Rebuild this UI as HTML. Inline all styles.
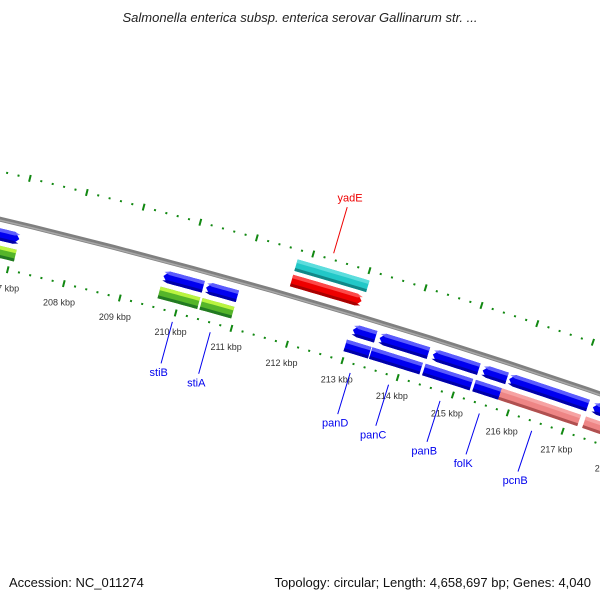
<!DOCTYPE html>
<html><head><meta charset="utf-8"><style>
html,body{margin:0;padding:0;background:#fff;}
svg{display:block;font-family:"Liberation Sans","DejaVu Sans",sans-serif;}
</style></head><body>
<svg id="map" width="600" height="600" viewBox="0 0 600 600" xmlns="http://www.w3.org/2000/svg">
<rect width="600" height="600" fill="#fff"/>
<text x="300" y="22" text-anchor="middle" font-size="13" font-style="italic" fill="#222">Salmonella enterica subsp. enterica serovar Gallinarum str. ...</text>
<text x="9" y="587" font-size="13" fill="#111">Accession: NC_011274</text>
<text x="591" y="587" text-anchor="end" font-size="13" fill="#111">Topology: circular; Length: 4,658,697 bp; Genes: 4,040</text>
<g id="layer"></g>
</svg>
<script>
// scale / axis data
const tickKbp = [204,205,206,207,208,209,210,211,212,213,214,215,216,217,218,219];
const tickLabels = ["204 kbp","205 kbp","206 kbp","207 kbp","208 kbp","209 kbp","210 kbp","211 kbp","212 kbp","213 kbp","214 kbp","215 kbp","216 kbp","217 kbp","218 kbp","219 kbp"];
// CDS track (inner, upper band)
const cdsStart = [206.4,209.63,210.39,213.02,213.50,214.46,215.36,215.84,217.36];
const cdsEnd   = [207.07,210.34,210.95,213.43,214.38,215.29,215.80,217.27,218.6];
const cdsStrand = [1,-1,-1,-1,-1,-1,-1,-1,-1];
// gene track (inner, lower band)
const geneStart = [206.4,209.63,210.38,212.97,213.43,214.39,215.30,215.77,217.30];
const geneEnd   = [207.07,210.34,210.95,213.41,214.34,215.25,215.77,217.21,218.6];
const geneType  = ["green","green","green","blue","blue","blue","blue","pink","pink"];
const geneNames = ["","stiB","stiA","panD","panC","panB","folK","pcnB",""];
// outer features (yadE)
const outerStart = [211.77,211.77];
const outerEnd = [213.05,213.02];
const outerType = ["cyan","red"];
const outerStrand = [0,1];
const outerLabel = "yadE";
const outerLabelKbp = 212.33;

const CX=-1514, CY=6532, R=6492, DEG_PER_KBP=0.514, REF_ANGLE=-74.8;
const NS="http://www.w3.org/2000/svg";
const layer=document.getElementById('layer');
function ang(k){return (REF_ANGLE+(k-210)*DEG_PER_KBP)*Math.PI/180;}
function P(k,d){const a=ang(k),r=R+d;return [CX+r*Math.cos(a),CY+r*Math.sin(a)];}
function mk(tag,attrs){const e=document.createElementNS(NS,tag);for(const k in attrs)e.setAttribute(k,attrs[k]);layer.appendChild(e);return e;}
function arcPts(k1,k2,d){const pts=[];const n=12;for(let i=0;i<=n;i++){pts.push(P(k1+(k2-k1)*i/n,d));}return pts;}
function ptsStr(p){return p.map(q=>q[0].toFixed(2)+','+q[1].toFixed(2)).join(' ');}
function bandPts(k1,k2,d1,d2,strand){
  const head=0.09;
  if(strand===0){return arcPts(k1,k2,d2).concat(arcPts(k1,k2,d1).reverse());}
  if(strand>0){const e=k2-head;return arcPts(k1,e,d2).concat([P(k2,(d1+d2)/2)]).concat(arcPts(k1,e,d1).reverse());}
  const s=k1+head;return [P(k1,(d1+d2)/2)].concat(arcPts(s,k2,d2)).concat(arcPts(s,k2,d1).reverse());
}
const PAL={blue:["#6b6bff","#0000f0","#0000a8"],green:["#ccff44","#55b52a","#227a22"],pink:["#f7a8a8","#ee8585","#b05050"],red:["#ff5555","#ee0000","#aa0000"],cyan:["#66e0e0","#22c8c8","#118888"]};
function drawBand(k1,k2,d1,d2,strand,col,name){
  const c=PAL[col];const t=d2-d1;
  const base=mk('polygon',{points:ptsStr(bandPts(k1,k2,d1,d2,strand)),fill:c[1]});
  
  
  const top=mk('polygon',{points:ptsStr(bandPts(k1,k2,d2-t*0.3,d2,strand)),fill:c[0],opacity:0.85});
  
  
  const bot=mk('polygon',{points:ptsStr(bandPts(k1,k2,d1,d1+t*0.25,strand)),fill:c[2]});
  
  
}
// backbone
const bb=mk('polyline',{points:ptsStr(arcPts(203,220,0)),fill:'none',stroke:'#808080','stroke-width':5});


const bbl=mk('polyline',{points:ptsStr(arcPts(203,220,-1)),fill:'none',stroke:'#a8a8a8','stroke-width':1.5});


// ticks
tickKbp.forEach((k,i)=>{
  for(let j=0;j<5;j++){
    const kk=k+j*0.2;
    [[-47.5],[46.5]].forEach(([d])=>{
      const len=j===0?3.5:1;
      const a=P(kk,d-len),b=P(kk,d+len);
      const l=mk('line',{x1:a[0],y1:a[1],x2:b[0],y2:b[1],stroke:'#118811','stroke-width':2});
      
      
    });
  }
  const p=P(k,-67);
  const t=mk('text',{x:p[0],y:p[1]+3,'text-anchor':'middle','font-size':9,fill:'#333'});
  t.textContent=tickLabels[i];
  
  
});
// outer features
outerStart.forEach((s,i)=>{
  const d=outerType[i]==='cyan'?[25,37]:[9,21];
  drawBand(s,outerEnd[i],d[0],d[1],outerStrand[i],outerType[i],outerType[i]==='cyan'?'yadE-gene':'yadE-cds');
});
{const a=P(outerLabelKbp,53),b=P(outerLabelKbp,101);
 const l=mk('line',{x1:a[0],y1:a[1],x2:b[0],y2:b[1],stroke:'#ee0000','stroke-width':1});
 
 
 const p=P(outerLabelKbp,111);
 const t=mk('text',{x:p[0],y:p[1]+4,'text-anchor':'middle','font-size':11,fill:'#ee0000'});
 t.textContent=outerLabel;
 
 }
// CDS
cdsStart.forEach((s,i)=>{drawBand(s,cdsEnd[i],-21,-9,cdsStrand[i],'blue','cds-'+(geneNames[i]||'partial'));});
// genes
geneStart.forEach((s,i)=>{
  drawBand(s,geneEnd[i],-38,-26,0,geneType[i],'gene-'+(geneNames[i]||'partial'));
  if(geneNames[i]){
    const m=(s+geneEnd[i])/2;
    const a=P(m,-57),b=P(m,-100);
    const l=mk('line',{x1:a[0],y1:a[1],x2:b[0],y2:b[1],stroke:'#0000ee','stroke-width':1});
    
    
    const p=P(m,-109);
    const t=mk('text',{x:p[0],y:p[1]+4,'text-anchor':'middle','font-size':11,fill:'#0000ee'});
    t.textContent=geneNames[i];
    
    
  }
});
</script>
</body></html>
